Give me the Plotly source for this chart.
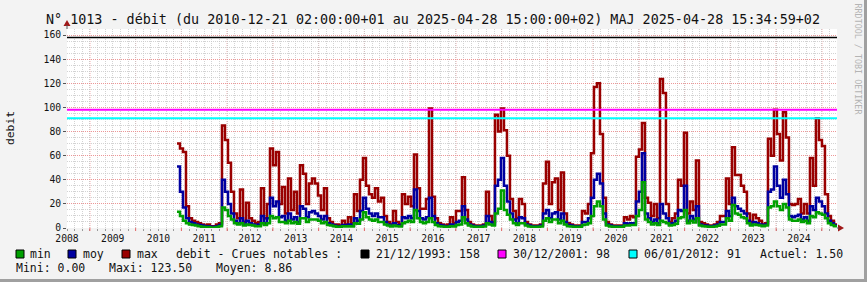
import plotly.graph_objects as go

# ---------------- data ----------------
t_start = 2010.404          # first sample (decimal year)
step = 0.06557              # ~24 days between samples

q_max = [70, 66, 63, 18, 8, 6, 5, 4, 3, 2, 3, 1.5, 1.5, 3, 4, 85, 73, 54, 30, 12,
         8, 32, 5, 21, 8, 6, 4, 5, 33, 8, 20, 66, 52, 63, 20, 34, 12, 41, 15, 30,
         12, 52, 45, 20, 37, 41, 37, 27, 15, 33, 8, 5, 3, 3, 2, 6, 3, 9, 4, 28,
         14, 40, 58, 35, 28, 25, 33, 22, 25, 10, 5, 3, 14, 5, 3, 28, 20, 26, 18, 61,
         33, 16, 16, 24, 99, 26, 8, 4, 3, 2, 3, 9, 4, 14, 14, 42, 15, 5, 3, 2,
         2, 2, 3, 30, 10, 5, 94, 80, 99, 81, 60, 24, 14, 8, 24, 20, 5, 3, 2, 2,
         2, 3, 37, 55, 20, 38, 41, 15, 46, 12, 4, 3, 2, 2, 2, 14, 12, 20, 62, 117,
         120, 78, 25, 5, 3, 2, 2, 2, 2, 9, 7, 10, 9, 59, 65, 87, 25, 21, 10, 20,
         8, 123.5, 112, 20, 5, 8, 12, 40, 35, 79, 12, 22, 15, 56, 5, 4, 3, 2, 2, 3,
         5, 10, 10, 41, 20, 67, 44, 44, 35, 30, 12, 5, 11, 8, 6, 3, 4, 74, 60, 98,
         78, 56, 96, 75, 20, 19, 20, 24, 12, 20, 12, 58, 35, 91, 73, 68, 28, 10, 6, 3,
         1.5]

q_moy = [51, 30, 17, 8, 5, 4, 3, 2.5, 2, 1.5, 1.5, 1, 1, 1.5, 2.5, 40, 30, 20, 12, 6,
         4, 8, 3, 6, 4, 3, 2, 3, 10, 4, 8, 25, 18, 22, 9, 10, 6, 12, 7, 9,
         5, 18, 16, 9, 13, 14, 12, 10, 7, 10, 4, 3, 2, 1.5, 1.5, 2.5, 2, 3, 2, 8,
         6, 14, 25, 16, 12, 10, 12, 9, 9, 5, 3, 2, 4, 2.5, 2, 9, 8, 10, 8, 32,
         14, 8, 7, 9, 25, 10, 4, 2.5, 2, 1.5, 1.5, 3, 2, 5, 6, 18, 7, 3, 2, 1.5,
         1.5, 1.5, 2, 10, 5, 3, 35, 40, 58, 35, 22, 12, 7, 4, 9, 8, 3, 2, 1.5, 1.5,
         1.5, 2, 12, 15, 8, 12, 13, 7, 12, 5, 2.5, 2, 1.5, 1.5, 1.5, 5, 5, 8, 25, 40,
         45, 37, 12, 3, 2, 1.5, 1.5, 1.5, 1.5, 4, 3.5, 4, 4, 22, 30, 62, 12, 8, 5, 7,
         4, 20, 12, 8, 3, 4, 6, 15, 14, 35, 6, 10, 7, 18, 3, 2, 2, 1.5, 1.5, 2,
         3, 5, 5, 14, 10, 25, 18, 16, 14, 12, 6, 3, 5, 4, 3, 2, 3, 30, 32, 51,
         35, 25, 40, 28, 10, 9, 10, 11, 7, 9, 6, 18, 15, 25, 22, 18, 12, 6, 4, 2,
         1.5]

q_min = [13.5, 10, 6, 4, 3, 2.5, 2, 1.5, 1, 0.8, 0.8, 0.5, 0.5, 0.8, 1.5, 17, 15, 10, 7, 4,
         3, 4, 2, 3, 2.5, 2, 1.5, 1.5, 4, 2.5, 4, 10, 8, 9, 5, 5, 4, 6, 4, 5,
         3.5, 8, 8, 5, 7, 7, 7, 6, 4, 5, 2.5, 2, 1.5, 1, 1, 1.5, 1.2, 1.5, 1.2, 4,
         3.5, 7, 13, 9, 7, 6, 7, 5, 5, 3, 2, 1.2, 2, 1.5, 1.2, 4, 5, 6, 5, 15,
         8, 5, 4, 5, 8, 5, 2.5, 1.5, 1.2, 1, 1, 1.5, 1.2, 2.5, 3, 9, 4, 2, 1.2, 1,
         1, 1, 1.2, 4, 3, 2, 12, 16, 31, 15, 11, 7, 4, 2.5, 4, 4, 2, 1.2, 1, 1,
         1, 1.2, 6, 8, 5, 7, 7, 4, 6, 3, 1.5, 1.2, 1, 1, 1, 2.5, 3, 4, 10, 18,
         22, 18, 7, 2, 1.2, 1, 1, 1, 1, 2, 2, 2.5, 2.5, 10, 15, 38, 7, 5, 3, 4,
         2.5, 6, 5, 4, 2, 2.5, 3.5, 8, 9, 15, 4, 6, 4.5, 8, 2, 1.5, 1.2, 1, 1, 1.2,
         1.8, 3, 3, 8, 6, 19, 12, 11, 9, 8, 4, 2, 3, 2.5, 2, 1.5, 2, 17, 18, 22,
         18, 15, 20, 17, 7, 6, 6, 7, 5, 6, 4, 10, 9, 13, 12, 11, 8, 4, 2.5, 1.5,
         1.2]

x_vals = [t_start + i * step for i in range(len(q_max))]

years = list(range(2008, 2025))
crue_dates = ["21/12/1993", "30/12/2001", "06/01/2012"]
crue_values = [158, 98, 91]
crue_colors = ["#000000", "#ff00ff", "#00ffff"]
series_names = ["min", "moy", "max"]
series_colors = ["#00a000", "#0000a0", "#990000"]
stats_text = ["Mini: 0.00", "Maxi: 123.50", "Moyen: 8.86"]
actuel_text = "Actuel: 1.50"
title_text = ("N° 1013 - débit (du 2010-12-21 02:00:00+01 au 2025-04-28 15:00:00+02) "
              "MAJ 2025-04-28 15:34:59+02")

# ---------------- layout geometry ----------------
W, H = 867, 282
L, R, T, B = 67, 30, 29, 54
PW, PH = W - L - R, H - T - B
FONT = "DejaVu Sans Mono"


def px(x):
    return (x - L) / PW


def py(y):
    return (H - B - y) / PH


x_end = 2008 + PW / 45.75

fig = go.Figure()
for name, vals, col in [("max", q_max, series_colors[2]),
                        ("moy", q_moy, series_colors[1]),
                        ("min", q_min, series_colors[0])]:
    fig.add_trace(go.Scatter(x=x_vals, y=vals, mode="lines", name=name,
                             line=dict(color=col, width=2.5, shape="hv"),
                             showlegend=False, hoverinfo="skip"))

shapes = []
# major vertical grid (mid-year) red dotted
for yv in years:
    xv = yv + 0.5
    if xv < x_end:
        shapes.append(dict(type="line", xref="x", yref="paper", x0=xv, x1=xv, y0=0, y1=1,
                           line=dict(color="rgba(235,140,140,0.9)", width=1, dash="1px,1px"),
                           layer="between"))
        shapes.append(dict(type="line", xref="x", yref="paper", x0=xv, x1=xv,
                           y0=0, y1=-3 / PH,
                           line=dict(color="rgba(235,110,110,1)", width=1), layer="above"))
# crue horizontal rules
for v, c in zip(crue_values, crue_colors):
    shapes.append(dict(type="line", xref="paper", yref="y", x0=0, x1=1, y0=v, y1=v,
                       line=dict(color=c, width=2 if c != "#000000" else 1.5), layer="above"))
# arrows
shapes.append(dict(type="path", xref="paper", yref="paper",
                   path=f"M {px(67)},{py(20)} L {px(63.5)},{py(26)} L {px(70.5)},{py(26)} Z",
                   fillcolor="#a01818", line=dict(width=0), layer="above"))
shapes.append(dict(type="line", xref="paper", yref="paper", x0=0, x1=0, y0=1, y1=py(25),
                   line=dict(color="#555555", width=1), layer="above"))
shapes.append(dict(type="path", xref="paper", yref="paper",
                   path=f"M {px(844)},{py(228)} L {px(838)},{py(224.5)} L {px(838)},{py(231.5)} Z",
                   fillcolor="#a01818", line=dict(width=0), layer="above"))
shapes.append(dict(type="line", xref="paper", yref="paper", x0=1, x1=px(839), y0=0, y1=0,
                   line=dict(color="#555555", width=1), layer="above"))
# frame shading
shapes.append(dict(type="rect", xref="paper", yref="paper", x0=px(864), x1=px(867),
                   y0=py(282), y1=py(0), fillcolor="#a0a0a0", line=dict(width=0), layer="above"))
shapes.append(dict(type="rect", xref="paper", yref="paper", x0=px(0), x1=px(867),
                   y0=py(282), y1=py(279), fillcolor="#a0a0a0", line=dict(width=0), layer="above"))

annotations = []
# title
annotations.append(dict(text=title_text, xref="paper", yref="paper", x=px(433), y=py(20),
                        xanchor="center", yanchor="middle", showarrow=False,
                        font=dict(family=FONT, size=13.4, color="#111")))
# y title
annotations.append(dict(text="debit", xref="paper", yref="paper", x=px(10), y=py(128),
                        xanchor="center", yanchor="middle", showarrow=False, textangle=-90,
                        font=dict(family=FONT, size=11.3, color="#111")))
# watermark
annotations.append(dict(text="RRDTOOL / TOBI OETIKER", xref="paper", yref="paper",
                        x=px(857.5), y=py(60), xanchor="center", yanchor="middle",
                        showarrow=False, textangle=90,
                        font=dict(family=FONT, size=8.4, color="#b4b4b4")))

LEG_Y1, LEG_Y2 = 254, 268


def legend_box(x0, color):
    shapes.append(dict(type="rect", xref="paper", yref="paper", x0=px(x0), x1=px(x0 + 8),
                       y0=py(LEG_Y1 + 4), y1=py(LEG_Y1 - 4), fillcolor=color,
                       line=dict(color="#000000", width=1), layer="above"))


def legend_text(x0, yv, txt):
    annotations.append(dict(text=txt, xref="paper", yref="paper", x=px(x0 - 2), y=py(yv),
                            xanchor="left", yanchor="middle", showarrow=False,
                            font=dict(family=FONT, size=11.5, color="#111")))


box_x = [16, 68, 122]
txt_x = [30, 83, 137]
for n, c, bx, tx in zip(series_names, series_colors, box_x, txt_x):
    legend_box(bx, c)
    legend_text(tx, LEG_Y1, n)
legend_text(176, LEG_Y1, "debit - Crues notables :")
crue_box_x = [361, 498, 629]
crue_txt_x = [376, 513, 644]
for d, v, c, bx, tx in zip(crue_dates, crue_values, crue_colors, crue_box_x, crue_txt_x):
    legend_box(bx, c)
    legend_text(tx, LEG_Y1, f"{d}: {v}")
legend_text(760, LEG_Y1, actuel_text)
for s, tx in zip(stats_text, [16, 109, 216]):
    legend_text(tx, LEG_Y2, s)

fig.update_layout(
    width=W, height=H,
    margin=dict(l=L, r=R, t=T, b=B, pad=0),
    paper_bgcolor="#f3f3f3", plot_bgcolor="#ffffff",
    shapes=shapes, annotations=annotations, showlegend=False,
    xaxis=dict(range=[2008, x_end], tickvals=years, ticktext=[str(y) for y in years],
               showgrid=False, zeroline=False, showline=False, ticks="",
               ticklabelstandoff=3,
               tickfont=dict(family=FONT, size=9.7, color="#111"),
               minor=dict(dtick=1 / 6, tick0=2008, showgrid=True,
                          gridcolor="rgba(200,200,200,0.8)", griddash="1px,1px",
                          ticks="outside", ticklen=2, tickcolor="#999999"),
               fixedrange=True),
    yaxis=dict(range=[0, 165], dtick=20, tick0=0, showgrid=True,
               gridcolor="rgba(235,140,140,0.9)", griddash="1px,1px",
               zeroline=False, showline=False, ticks="outside", ticklen=3,
               tickcolor="#555555",
               tickfont=dict(family=FONT, size=9.7, color="#111"),
               minor=dict(dtick=5, tick0=0, showgrid=True,
                          gridcolor="rgba(200,200,200,0.8)", griddash="1px,1px"),
               fixedrange=True),
)

fig.write_html("out.html")
